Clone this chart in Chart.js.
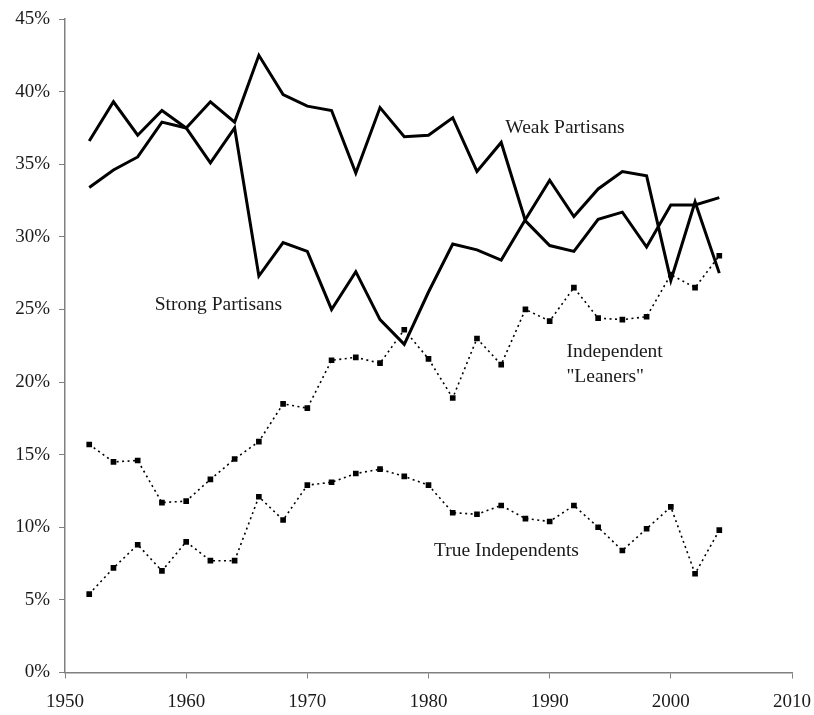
<!DOCTYPE html>
<html>
<head>
<meta charset="utf-8">
<script src="https://cdn.jsdelivr.net/npm/chart.js@4/dist/chart.umd.min.js"></script>
<style>
  html, body { margin: 0; padding: 0; background: #ffffff; }
  #wrap { width: 814px; height: 715px; position: relative; }
</style>
</head>
<body>
<div id="wrap"><canvas id="c"></canvas></div>
<script>
// ---- Data ----
const years = [1952,1954,1956,1958,1960,1962,1964,1966,1968,1970,1972,1974,1976,1978,1980,1982,1984,1986,1988,1990,1992,1994,1996,1998,2000,2002,2004];
const weakPartisans = [36.6,39.3,37.0,38.7,37.5,39.3,37.9,42.5,39.8,39.0,38.7,34.4,38.9,36.9,37.0,38.2,34.5,36.5,31.1,29.4,29.0,31.2,31.7,29.3,32.2,32.2,32.7];
const strongPartisans = [33.4,34.6,35.5,37.9,37.5,35.1,37.5,27.3,29.6,29.0,25.0,27.6,24.3,22.6,26.2,29.5,29.1,28.4,31.2,33.9,31.4,33.3,34.5,34.2,27.0,32.4,27.5];
const independentLeaners = [15.7,14.5,14.6,11.7,11.8,13.3,14.7,15.9,18.5,18.2,21.5,21.7,21.3,23.6,21.6,18.9,23.0,21.2,25.0,24.2,26.5,24.4,24.3,24.5,27.4,26.5,28.7];
const trueIndependents = [5.4,7.2,8.8,7.0,9.0,7.7,7.7,12.1,10.5,12.9,13.1,13.7,14.0,13.5,12.9,11.0,10.9,11.5,10.6,10.4,11.5,10.0,8.4,9.9,11.4,6.8,9.8];
const xTickMin = 1950, xTickMax = 2010, xTickStep = 10;
const yTickMin = 0, yTickMax = 45, yTickStep = 5;
const seriesLabels = [
  { lines: ['Strong Partisans'], x: 1962.66, y: 25.33, align: 'center' },
  { lines: ['Weak Partisans'], x: 1991.26, y: 37.53, align: 'center' },
  { lines: ['Independent', '"Leaners"'], x: 1991.38, y: 22.09, align: 'left' },
  { lines: ['True Independents'], x: 1986.43, y: 8.37, align: 'center' }
];

const pts = arr => arr.map((v, i) => ({ x: years[i], y: v }));
const FONT = "'Liberation Serif', 'Times New Roman', serif";
const AXIS = '#808080';
const TEXT = '#1a1a1a';

const labelPlugin = {
  id: 'seriesLabels',
  afterDatasetsDraw(chart) {
    const { ctx, scales } = chart;
    ctx.save();
    ctx.font = '19.5px ' + FONT;
    ctx.fillStyle = TEXT;
    ctx.textBaseline = 'middle';
    seriesLabels.forEach(l => {
      ctx.textAlign = l.align;
      const px = scales.x.getPixelForValue(l.x);
      const py = scales.y.getPixelForValue(l.y);
      l.lines.forEach((t, i) => ctx.fillText(t, px, py + i * 25));
    });
    ctx.restore();
  }
};

const solid = (label, data) => ({
  label, data: pts(data),
  borderColor: '#000', borderWidth: 3, pointRadius: 0,
  tension: 0, borderJoinStyle: 'miter', fill: false
});
const dotted = (label, data) => ({
  label, data: pts(data),
  borderColor: '#000', borderWidth: 1.6, borderDash: [2, 3.5],
  pointStyle: 'rect', pointRadius: 4, pointBackgroundColor: '#000',
  pointBorderWidth: 0, tension: 0, fill: false
});

new Chart(document.getElementById('c'), {
  type: 'line',
  data: {
    datasets: [
      solid('Weak Partisans', weakPartisans),
      solid('Strong Partisans', strongPartisans),
      dotted('Independent "Leaners"', independentLeaners),
      dotted('True Independents', trueIndependents)
    ]
  },
  options: {
    responsive: true,
    maintainAspectRatio: false,
    animation: false,
    layout: { padding: { top: 19, right: 22, left: 0, bottom: 0 } },
    plugins: { legend: { display: false }, tooltip: { enabled: false } },
    scales: {
      x: {
        type: 'linear', min: xTickMin, max: xTickMax,
        ticks: { stepSize: xTickStep, font: { family: FONT, size: 19 }, color: TEXT, padding: 12,
                 callback: v => String(v), maxRotation: 0 },
        grid: { display: true, drawOnChartArea: false, drawTicks: true, tickLength: 6, color: AXIS, lineWidth: 1 },
        border: { display: true, color: AXIS, width: 1.5 },
        afterFit: s => { s.height = 42.5; s.paddingLeft = 0; s.paddingRight = 0; }
      },
      y: {
        min: yTickMin, max: yTickMax,
        ticks: { stepSize: yTickStep, font: { family: FONT, size: 19 }, color: TEXT, padding: 9,
                 callback: v => v + '%' },
        grid: { display: true, drawOnChartArea: false, drawTicks: true, tickLength: 6, color: AXIS, lineWidth: 1 },
        border: { display: true, color: AXIS, width: 1.5 },
        afterFit: s => { s.width = 65; s.paddingTop = 0; s.paddingBottom = 0; }
      }
    }
  },
  plugins: [labelPlugin]
});
</script>
</body>
</html>
